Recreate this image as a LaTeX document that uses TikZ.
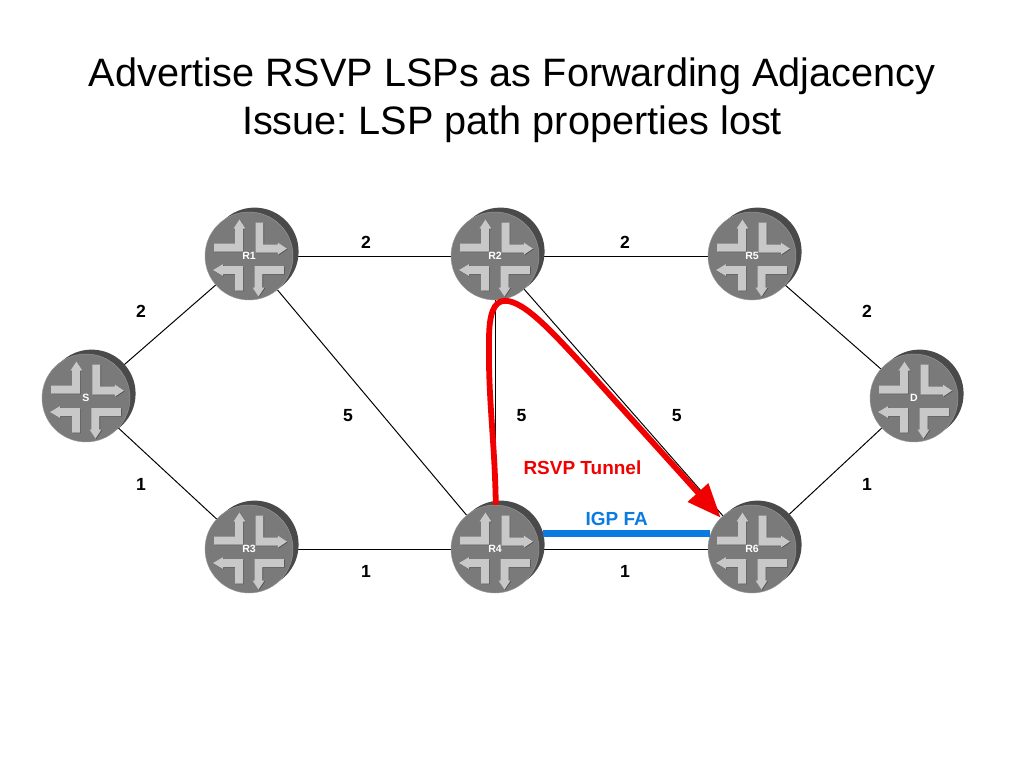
\documentclass[tikz,border=0pt]{standalone}
\usepackage{fontspec}
\setmainfont{Liberation Sans}
\usepackage{tikz}
\usetikzlibrary{arrows.meta,backgrounds}
\definecolor{routerface}{HTML}{7A7A7A}
\definecolor{routerrim}{HTML}{9A9A9A}
\definecolor{routerback}{HTML}{4A4A4A}
\definecolor{routerarrow}{HTML}{C8C8C8}
\definecolor{tunnelred}{HTML}{F00000}
\definecolor{fablue}{HTML}{0A7BE0}
\newcommand{\routerarrows}{
  \foreach \dx/\col in {0.6/routerback,0/routerarrow}{
    \begin{scope}[xshift=\dx*0.025cm,yshift=-\dx*0.025cm]
    \fill[\col] (-35,-14) -- (-14,-14) -- (-14,-29) -- (-15.5,-29) -- (-9.5,-38) -- (-3.5,-29) -- (-6,-29) -- (-6,-6) -- (-35,-6) -- cycle;
    \fill[\col] (6.5,-35) -- (14.5,-35) -- (14.5,-13) -- (29,-13) -- (29,-15) -- (38,-9) -- (29,-3) -- (29,-5) -- (6.5,-5) -- cycle;
    \fill[\col] (-6,33) -- (-14,33) -- (-14,16.5) -- (-26,16.5) -- (-26,18.5) -- (-36,12.5) -- (-26,6.5) -- (-26,8.5) -- (-6,8.5) -- cycle;
    \fill[\col] (35,8.5) -- (35,16.5) -- (13.5,16.5) -- (13.5,30) -- (15.5,30) -- (9.5,39) -- (3.5,30) -- (5.5,30) -- (5.5,8.5) -- cycle;
    \end{scope}
  }
}
\begin{document}
\frenchspacing
\begin{tikzpicture}[
  router/.style={circle,fill=routerface,draw=routerrim,line width=0.3pt,minimum size=2.2cm,inner sep=0pt,text=white,font=\fontsize{7.5}{9}\selectfont\bfseries},
  link/.style={draw=black,line width=0.7pt},
  weight/.style={font=\fontsize{12.5}{14}\selectfont\bfseries,inner sep=0pt},
  callout/.style={font=\fontsize{13.5}{16}\selectfont\bfseries,inner sep=0pt},
  tunnel/.style={draw=tunnelred,line width=0.145cm,-{Triangle[length=0.85cm,width=0.66cm]}},
  fa/.style={draw=fablue,line width=0.175cm},
  title/.style={font=\fontsize{28.2}{34}\selectfont,align=center,inner sep=0pt}
]
\useasboundingbox (0,0) rectangle (25.6,-19.2);
\node[title] (heading) at (12.8,-2.5) {Advertise RSVP LSPs as Forwarding Adjacency\\Issue: LSP path properties lost};

\foreach \name/\x/\y/\txt in {s/2.15/-9.95/S,r1/6.225/-6.4/R1,r2/12.375/-6.4/R2,r5/18.8/-6.4/R5,d/22.85/-9.95/D,r3/6.225/-13.725/R3,r4/12.375/-13.725/R4,r6/18.8/-13.725/R6}{
  \fill[routerback] (\x+0.14,\y+0.11) circle (1.1cm);
  \node[router] (\name) at (\x,\y) {\txt};
  \begin{scope}[shift={(\x,\y-0.04)},x=0.025cm,y=-0.025cm]
    \routerarrows
  \end{scope}
}

% links sit behind the routers
\begin{pgfonlayer}{background}
\draw[link] (s) -- (r1);
\draw[link] (s) -- (r3);
\draw[link] (r1) -- (r2);
\draw[link] (r1) -- (r4);
\draw[link] (r3) -- (r4);
\draw[link] (r2) -- (r5);
\draw[link] (r2) -- (r4);
\draw[link] (r2) -- (r6);
\draw[link] (r4) -- (r6);
\draw[link] (r5) -- (d);
\draw[link] (r6) -- (d);
\end{pgfonlayer}

\draw[fa] ([xshift=0.17cm]r4.20) -- (r6.160);
\draw[tunnel] ([xshift=0.02cm]r4.north) .. controls (12.37,-11) and (12.2,-10) .. (12.225,-8.5) .. controls (12.225,-7.9) and (12.325,-7.52) .. (12.625,-7.52) .. controls (13.125,-7.52) and (13.875,-8.375) .. (14.75,-9.325) -- (r6.135);

\foreach \i/\x/\y/\w in {1/9.15/-6.05/2,2/15.625/-6.05/2,3/3.525/-7.78/2,4/21.675/-7.78/2,5/8.7/-10.4/5,6/13.04/-10.4/5,7/16.92/-10.4/5,8/3.525/-12.12/1,9/21.675/-12.12/1,10/9.15/-14.28/1,11/15.625/-14.28/1}{
  \node[weight] (w\i) at (\x,\y) {\w};
}
\node[callout,text=tunnelred] (tunnellabel) at (14.56,-11.7) {RSVP Tunnel};
\node[callout,text=fablue] (falabel) at (15.42,-12.97) {IGP FA};
\end{tikzpicture}
\end{document}
